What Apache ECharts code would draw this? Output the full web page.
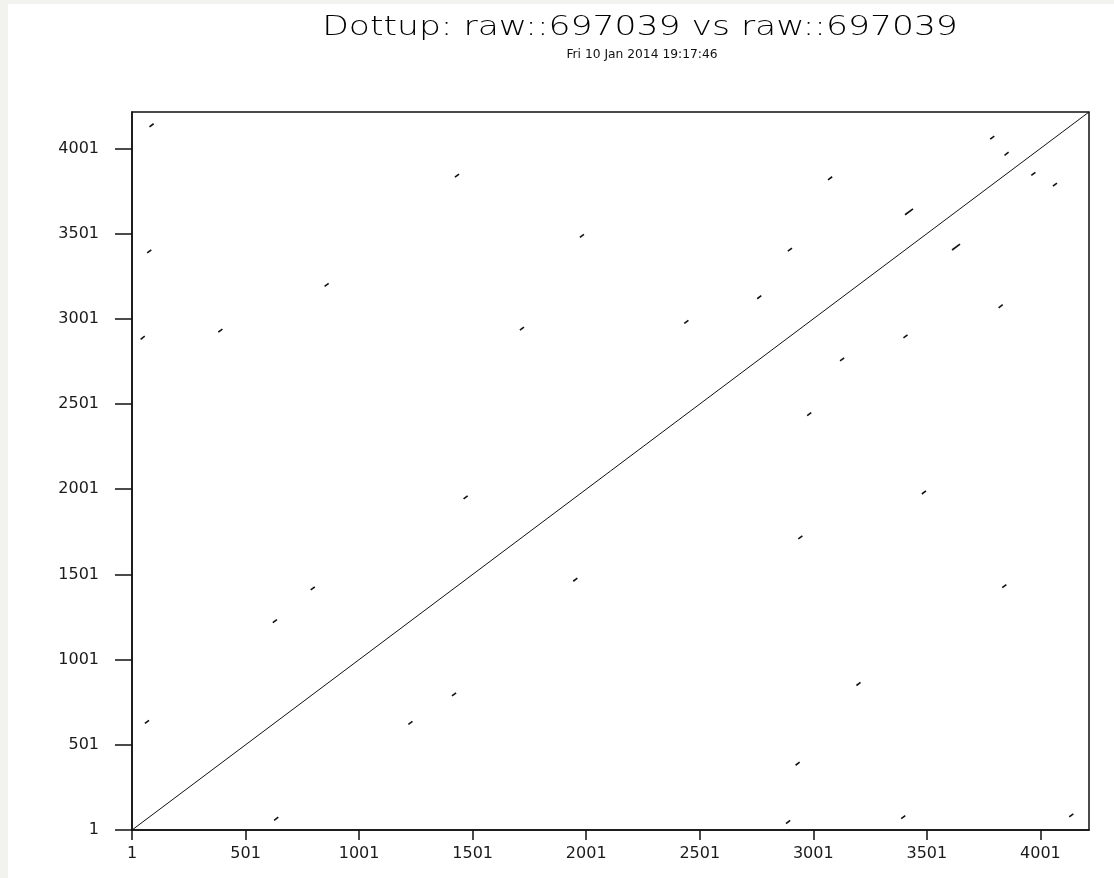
<!DOCTYPE html>
<html>
<head>
<meta charset="utf-8">
<script src="https://cdn.jsdelivr.net/npm/echarts@6/dist/echarts.min.js"></script>
<style>
html,body{margin:0;padding:0;background:#f2f2ee;}
#chart{width:1114px;height:878px;}
</style>
</head>
<body>
<div id="chart"></div>
<script>
// Sequence length (both axes: raw::697039 vs itself)
var seqLength = 4215;
// Tick labels
var tickValues = [1, 501, 1001, 1501, 2001, 2501, 3001, 3501, 4001];
// Match segments (forward word matches): start position on x, start on y, length
var matchX = [78, 68, 39, 381, 58, 849, 788, 621, 1423, 1461, 1973, 1709, 2433, 3780, 3843, 3066, 3405, 2889, 2754,
              4128, 3388, 2881, 2923, 627, 3191, 1410, 1218, 3833, 1944, 3479, 2935, 2974, 4056, 3961, 3817, 3612, 3398, 3119];
var matchY = [4128, 3388, 2881, 2923, 627, 3191, 1410, 1218, 3833, 1944, 3479, 2935, 2974, 4056, 3961, 3817, 3612, 3398, 3119,
              78, 68, 39, 381, 58, 849, 788, 621, 1423, 1461, 1973, 1709, 2433, 3780, 3843, 3066, 3405, 2889, 2754];
var matchLen = [18, 18, 18, 18, 18, 18, 18, 18, 18, 18, 18, 18, 18, 18, 18, 18, 35, 18, 18,
                18, 18, 18, 18, 18, 18, 18, 18, 18, 18, 18, 18, 18, 18, 18, 18, 35, 18, 18];
var titleText = 'Dottup: raw::697039 vs raw::697039';
var subText = 'Fri 10 Jan 2014 19:17:46';

var segData = matchX.map(function (x, i) {
  return { coords: [[x, matchY[i]], [x + matchLen[i], matchY[i] + matchLen[i]]] };
});

var chart = echarts.init(document.getElementById('chart'), null, {renderer: 'canvas'});
var labelFont = {fontFamily: 'DejaVu Sans', fontSize: 16, color: '#1a1a1a', formatter: function (v) { return String(v); }};
chart.setOption({
  backgroundColor: '#f2f2ee',
  animation: false,
  graphic: [
    {type: 'rect', left: 8, top: 4, shape: {width: 1106, height: 874}, style: {fill: '#ffffff'}, z: -10, silent: true},
    {type: 'text', x: 640, y: 28, scaleX: 1.28, style: {text: titleText, fontFamily: 'DejaVu Sans', fontSize: 27, fontWeight: 'lighter', fill: '#000', textAlign: 'center', textVerticalAlign: 'middle'}},
    {type: 'text', x: 642, y: 55, scaleX: 1.05, style: {text: subText, fontFamily: 'DejaVu Sans Condensed', fontSize: 13, fill: '#111', textAlign: 'center', textVerticalAlign: 'middle'}}
  ],
  grid: {left: 132, top: 112, right: 25, bottom: 48, show: true, borderColor: '#111', borderWidth: 1.5, backgroundColor: '#fff', containLabel: false},
  xAxis: {
    type: 'value', min: 1, max: seqLength,
    axisLine: {show: true, lineStyle: {color: '#111', width: 1.5}},
    axisTick: {show: true, length: 10, lineStyle: {color: '#111', width: 1.5}, customValues: tickValues},
    axisLabel: Object.assign({margin: 16, customValues: tickValues}, labelFont),
    splitLine: {show: false}
  },
  yAxis: {
    type: 'value', min: 1, max: seqLength,
    axisLine: {show: true, lineStyle: {color: '#111', width: 1.5}},
    axisTick: {show: true, length: 17, lineStyle: {color: '#111', width: 1.5}, customValues: tickValues},
    axisLabel: Object.assign({margin: 33, customValues: tickValues}, labelFont),
    splitLine: {show: false}
  },
  series: [
    {type: 'line', data: [[1, 1], [seqLength, seqLength]], symbol: 'none', lineStyle: {color: '#111', width: 1}, silent: true},
    {type: 'lines', coordinateSystem: 'cartesian2d', data: segData, lineStyle: {color: '#111', width: 1.6, opacity: 1}, silent: true}
  ]
});
</script>
</body>
</html>
